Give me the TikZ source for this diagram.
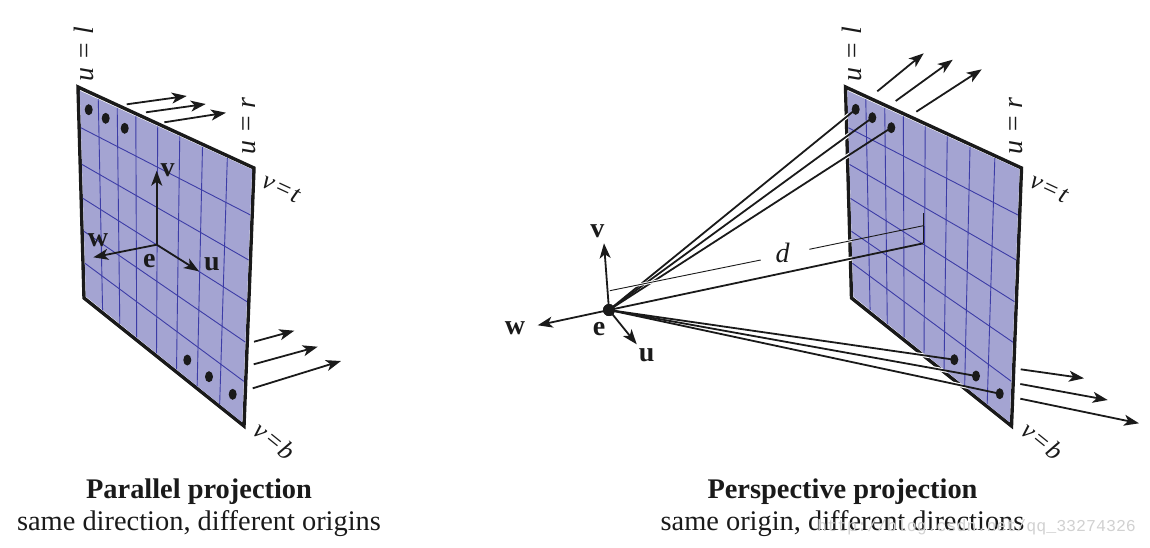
\documentclass[tikz,border=0pt]{standalone}
\usepackage{fontspec}
\setmainfont{Liberation Serif}
\newfontfamily\markfont{Liberation Mono}
\usetikzlibrary{arrows.meta,calc,shapes.geometric}

\definecolor{ink}{HTML}{1A1A1A}
\definecolor{panelfill}{HTML}{A4A4D2}
\definecolor{panelgrid}{HTML}{3C3CA6}

\begin{document}
\begin{tikzpicture}[x=1pt, y=-1pt,
    edge_style/.style = {draw=ink, line width=3.4pt, line join=miter},
    grid_style/.style = {draw=panelgrid, line width=0.9pt},
    ray_style/.style = {draw=ink, line width=1.8pt},
    halo_style/.style = {draw=white, line width=4pt},
    thin_style/.style = {draw=ink, line width=0.9pt},
    arrow_style/.style = {draw=ink, line width=1.8pt, -{Stealth[length=15pt, width=11pt, inset=4pt]}},
    dot_style/.style = {ellipse, fill=ink, inner sep=0pt, minimum width=8pt, minimum height=11pt},
    eye_style/.style = {circle, fill=ink, inner sep=0pt, minimum size=12pt},
    axis_style/.style = {text=ink, font=\fontsize{28}{28}\selectfont\bfseries, inner sep=0pt},
    side_style/.style = {text=ink, font=\fontsize{28}{28}\selectfont\itshape, inner sep=0pt},
    corner_style/.style = {text=ink, font=\fontsize{26}{26}\selectfont\itshape, inner sep=0pt},
    title_style/.style = {text=ink, font=\fontsize{28.4}{28.4}\selectfont\bfseries, inner sep=0pt},
    sub_style/.style = {text=ink, font=\fontsize{28.4}{28.4}\selectfont, inner sep=0pt}]

\useasboundingbox (0,0) rectangle (1150,547);

% Panel borders, left and right
\foreach \n/\sx in {l/0, r/767.5} {
    \coordinate (tl_\n) at (78+\sx,87);
    \coordinate (tr_\n) at (254+\sx,168);
    \coordinate (br_\n) at (244+\sx,426);
    \coordinate (bl_\n) at (84+\sx,298);
    \draw[edge_style] (tl_\n) -- (tr_\n) -- (br_\n) -- (bl_\n) -- cycle;
}

% Dots on the panels
\foreach \n/\x/\y in {l1/88.7/109.7, l2/105.7/118.3, l3/124.7/128.3,
                      l4/187.3/360, l5/209/376.7, l6/232.7/394.3,
                      r1/855.7/109.3, r2/872.3/117.7, r3/891.3/127.7,
                      r4/954.3/359.7, r5/976/376, r6/999.7/393.7}
    \coordinate (d_\n) at (\x,\y);

% Eye points and panel centres
\node[eye_style] (e_r) at (609,310) {};
\coordinate (m_r) at (923.3,243.3);
\coordinate (e_l) at (156.7,244.7);
\coordinate (g1) at (760.7,260);
\coordinate (g2) at (809.3,249.3);
\coordinate (g3) at (923.3,225.7);
\coordinate (g4) at (923.3,213);
\coordinate (g0) at (609.8,290.7);

% White gaps where the rays pass the border
\foreach \n in {r1, r2, r3, r4, r5, r6}
    \draw[halo_style] (e_r.center) -- (d_\n);
\draw[halo_style] (e_r.center) -- (m_r);
\draw[halo_style, line width=2.8pt] (g2) -- (g3);

% Panel faces and grids
\foreach \n in {l, r} {
    \coordinate (a_\n) at ($(tl_\n)!.011!(br_\n)$);
    \coordinate (b_\n) at ($(tr_\n)!.011!(bl_\n)$);
    \coordinate (c_\n) at ($(br_\n)!.011!(tl_\n)$);
    \coordinate (f_\n) at ($(bl_\n)!.011!(tr_\n)$);
    \fill[panelfill] (a_\n) -- (b_\n) -- (c_\n) -- (f_\n) -- cycle;
    \foreach \t in {.107, .217, .325, .452, .58, .712, .856}
        \draw[grid_style] ($(a_\n)!\t!(b_\n)$) -- ($(f_\n)!\t!(c_\n)$);
    \foreach \t in {.18, .358, .523, .683, .838}
        \draw[grid_style] ($(a_\n)!\t!(f_\n)$) -- ($(b_\n)!\t!(c_\n)$);
}

% Dots
\foreach \n in {l1, l2, l3, l4, l5, l6, r1, r2, r3, r4, r5, r6}
    \node[dot_style] (p_\n) at (d_\n) {};

% Rays to the dots
\foreach \n in {r1, r2, r3, r4, r5, r6}
    \draw[ray_style] (e_r.center) -- (p_\n.center);
\draw[ray_style] (e_r.center) -- (m_r);

% Distance d
\draw[halo_style, line width=2.8pt] (g0) -- (g1);
\draw[thin_style] (g0) -- (g1);
\draw[thin_style] (g2) -- (g3);
\draw[thin_style, line width=1.1pt] (g4) -- (m_r);
\node[side_style] (d_label) at (782.7,252.7) {d};

% Eye axes, parallel
\coordinate (vt_l) at (156.7,170.7);
\coordinate (wt_l) at (93.3,257.3);
\coordinate (ut_l) at (199,271.3);
\foreach \t in {vt_l, wt_l, ut_l}
    \draw[arrow_style] (e_l) -- (\t);

% Eye axes, perspective
\coordinate (vt_r) at (604,243.3);
\coordinate (wt_r) at (537.7,325.3);
\coordinate (ut_r) at (636.7,344.3);
\foreach \t in {vt_r, wt_r, ut_r}
    \draw[arrow_style] (e_r.center) -- (\t);
\node[eye_style] (e_top) at (e_r) {};

% Axis labels
\node[axis_style] (v_l) at (167.7,170) {v};
\node[axis_style] (w_l) at (98,240) {w};
\node[axis_style] (ee_l) at (149.3,261) {e};
\node[axis_style] (u_l) at (212,264.3) {u};
\node[axis_style] (v_r) at (597.3,231) {v};
\node[axis_style] (w_r) at (515,328.3) {w};
\node[axis_style] (ee_r) at (599,329) {e};
\node[axis_style] (u_r) at (646.7,355.7) {u};

% Direction arrows
\foreach \n/\ax/\ay/\bx/\by in {
    1/126.7/104.3/186.7/96, 2/146/112.3/205.7/104, 3/164.3/122.3/226/112.7,
    4/254/341.7/294.3/330.7, 5/253.7/364.3/317.7/346.7, 6/252.7/388.3/341/361,
    7/877.3/91.3/923.7/53.3, 8/895.7/101/952.7/59.7, 9/916.3/111.7/981.7/69.3,
    10/1020.7/369.3/1084/378.3, 11/1020.3/384/1107.7/400, 12/1020.3/398.7/1139/423.3} {
    \coordinate (s_\n) at (\ax,\ay);
    \coordinate (t_\n) at (\bx,\by);
    \draw[arrow_style] (s_\n) -- (t_\n);
}

% Edge labels
\foreach \n/\sx in {l/0, r/767.5} {
    \node[side_style, rotate=90] (ul_\n) at (84+\sx,54) {u = l};
    \node[side_style, rotate=90] (ur_\n) at (249+\sx,126) {u = r};
    \node[corner_style, rotate=-25] (vt_lab_\n) at (281.5+\sx,188.5) {ν\hspace{1.5pt}=\hspace{1.5pt}t};
    \node[corner_style, rotate=-39] (vb_lab_\n) at (275+\sx,440.5) {ν\hspace{1.5pt}=\hspace{1.5pt}b};
}

% Captions
\node[title_style] (title_l) at (199,492) {Parallel projection};
\node[sub_style] (sub_l) at (199,524) {same direction, different origins};
\node[title_style] (title_r) at (842.5,492) {Perspective projection};
\node[sub_style] (sub_r) at (842.5,524) {same origin, different directions};
\node[text=black!18, font=\fontsize{16.6}{17}\selectfont\markfont, inner sep=0pt, anchor=west] (mark) at (817,527) {http://blog.csdn.net/qq\_33274326};

\end{tikzpicture}
\end{document}
